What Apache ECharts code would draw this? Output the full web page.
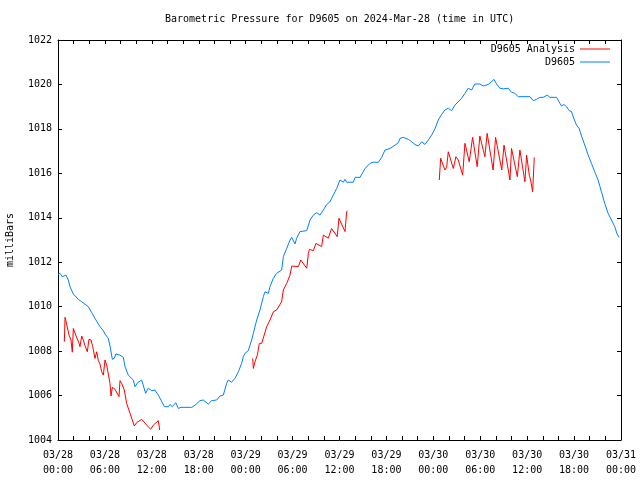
<!DOCTYPE html>
<html><head><meta charset="utf-8">
<script src="https://cdn.jsdelivr.net/npm/echarts@6/dist/echarts.min.js"></script>
<style>html,body{margin:0;padding:0;background:#fff}#c{width:640px;height:480px}</style>
</head><body><div id="c"></div>
<script>
// hours since 2024-03-28 00:00 UTC
const stationHours = [0.0,0.26,0.55,1.02,1.32,1.53,1.96,2.59,3.03,3.24,3.87,4.31,4.73,5.37,5.80,6.01,6.43,6.65,6.95,7.21,7.39,7.93,8.35,8.57,8.99,9.63,9.85,10.19,10.70,10.91,11.21,11.55,11.98,12.40,12.83,13.17,13.60,14.11,14.33,14.62,15.06,15.39,15.73,16.24,17.11,17.53,17.65,18.16,18.58,19.22,19.65,20.29,20.72,21.14,21.57,21.78,22.21,22.64,23.06,23.49,23.70,23.92,24.34,24.56,24.77,24.98,25.41,25.83,26.26,26.47,26.90,27.11,27.33,27.54,27.96,28.60,28.82,29.25,29.67,29.89,30.31,30.52,30.95,31.81,32.23,32.65,33.08,33.51,33.93,34.36,34.78,35.21,35.64,36.06,36.27,36.49,36.70,36.92,37.77,37.99,38.63,39.27,39.91,40.33,40.97,41.40,41.82,42.46,43.10,43.52,43.74,44.16,44.80,45.23,45.65,46.08,46.50,46.93,47.36,47.78,48.21,48.63,49.06,49.48,49.91,50.34,50.76,51.61,52.04,52.46,52.89,53.31,53.95,54.38,55.02,55.45,55.74,56.09,56.51,56.94,57.58,58.00,58.43,58.86,60.35,60.78,61.20,61.63,62.05,62.57,62.91,63.76,64.18,64.40,64.69,65.03,65.37,65.67,65.88,66.31,66.64,66.95,67.37,67.79,68.22,68.64,69.07,69.50,69.92,70.35,70.78,71.20,71.50,71.75];
const stationValues = [1011.45,1011.5,1011.35,1011.42,1011.2,1010.9,1010.57,1010.33,1010.22,1010.15,1010.0,1009.73,1009.47,1009.1,1008.92,1008.77,1008.57,1008.23,1007.63,1007.68,1007.87,1007.82,1007.72,1007.3,1006.92,1006.7,1006.4,1006.58,1006.7,1006.62,1006.1,1006.33,1006.22,1006.25,1006.02,1005.8,1005.5,1005.5,1005.6,1005.5,1005.68,1005.42,1005.47,1005.47,1005.47,1005.57,1005.5,1005.77,1005.8,1005.62,1005.77,1005.8,1005.98,1006.02,1006.55,1006.7,1006.6,1006.78,1007.07,1007.45,1007.75,1007.9,1008.02,1008.1,1008.5,1008.8,1009.4,1009.85,1010.45,1010.67,1010.6,1010.9,1010.83,1011.28,1011.5,1011.65,1012.25,1012.62,1013.0,1013.12,1012.82,1013.08,1013.38,1013.42,1013.9,1014.12,1014.23,1014.12,1014.35,1014.6,1014.72,1015.02,1015.32,1015.7,1015.73,1015.6,1015.73,1015.6,1015.6,1015.82,1015.82,1016.22,1016.45,1016.5,1016.5,1016.72,1017.05,1017.12,1017.27,1017.38,1017.57,1017.62,1017.53,1017.42,1017.3,1017.23,1017.42,1017.3,1017.5,1017.72,1018.0,1018.4,1018.65,1018.85,1018.93,1018.82,1019.07,1019.37,1019.6,1019.83,1019.75,1020.02,1020.02,1019.93,1020.0,1020.12,1020.23,1020.02,1019.83,1019.8,1019.83,1019.65,1019.6,1019.45,1019.45,1019.27,1019.33,1019.42,1019.42,1019.52,1019.42,1019.42,1019.15,1019.03,1019.1,1019.0,1018.82,1018.78,1018.55,1018.17,1018.02,1017.68,1017.27,1016.83,1016.45,1016.07,1015.7,1015.17,1014.65,1014.2,1013.9,1013.6,1013.27,1013.12];

const analysisHours1 = [0.81,0.90,1.02,1.11,1.41,1.66,1.83,1.96,2.27,2.69,2.81,3.03,3.24,3.45,3.75,3.96,4.22,4.44,4.73,4.95,5.16,5.37,5.59,5.80,6.01,6.23,6.65,6.78,6.95,7.29,7.80,7.93,8.14,8.48,8.78,9.21,9.76,10.06,10.70,11.34,11.85,12.19,12.83,13.01];
const analysisValues1 = [1008.42,1009.52,1009.35,1009.4,1008.72,1008.5,1007.95,1009.02,1008.72,1008.35,1008.2,1008.68,1008.5,1008.24,1007.97,1008.53,1008.5,1008.2,1007.67,1007.97,1007.57,1007.42,1007.07,1006.92,1007.6,1007.37,1006.55,1005.98,1006.37,1006.28,1005.95,1006.67,1006.55,1006.25,1005.65,1005.2,1004.63,1004.78,1004.93,1004.67,1004.48,1004.67,1004.87,1004.45];
const analysisHours2 = [24.90,24.98,25.19,25.49,25.75,25.83,26.05,26.69,27.11,27.54,27.96,28.60,28.82,29.25,29.67,29.89,30.10,30.74,31.04,31.81,32.02,32.15,32.65,33.00,33.72,33.93,34.57,34.99,35.71,35.93,36.70,36.92,36.99];
const analysisValues2 = [1007.67,1007.22,1007.52,1007.82,1008.35,1008.38,1008.35,1009.1,1009.4,1009.77,1009.85,1010.22,1010.75,1011.05,1011.42,1011.83,1011.8,1011.8,1012.1,1011.73,1012.4,1012.58,1012.52,1012.85,1012.7,1013.22,1013.08,1013.52,1013.15,1013.98,1013.38,1014.27,1014.32];
const analysisHours3 = [48.76,48.94,49.49,49.70,49.91,50.55,50.89,51.19,51.75,52.04,52.59,53.02,53.61,53.95,54.59,54.88,55.65,55.96,56.75,57.04,57.80,58.00,58.74,59.07,59.71,59.93,60.27,60.44,60.70,60.91];
const analysisValues3 = [1015.7,1016.68,1016.15,1016.27,1016.97,1016.22,1016.75,1016.6,1015.92,1017.35,1016.52,1017.62,1016.3,1017.68,1016.75,1017.8,1016.15,1017.62,1016.15,1017.27,1015.7,1017.12,1015.85,1017.05,1015.62,1016.82,1015.92,1015.7,1015.17,1016.72];

const xTickLabels = ['03/28\n00:00','03/28\n06:00','03/28\n12:00','03/28\n18:00','03/29\n00:00','03/29\n06:00','03/29\n12:00','03/29\n18:00','03/30\n00:00','03/30\n06:00','03/30\n12:00','03/30\n18:00','03/31\n00:00'];

const zip = (a, b) => a.map((h, i) => [h, b[i]]);
const analysisData = [].concat(
  zip(analysisHours1, analysisValues1), [[null, null]],
  zip(analysisHours2, analysisValues2), [[null, null]],
  zip(analysisHours3, analysisValues3)
).map(p => p[0] === null ? '-' : p);
const stationData = zip(stationHours, stationValues);

const FONT = 'DejaVu Sans Mono';
const tickCommon = {inside: true, length: 4, lineStyle: {color: '#000', width: 1}};
const minorCommon = {show: true, splitNumber: 3, length: 4, lineStyle: {color: '#000', width: 1}};
const chart = echarts.init(document.getElementById('c'), null, {renderer: 'canvas'});
chart.setOption({
  animation: false,
  backgroundColor: '#fff',
  title: {
    text: 'Barometric Pressure for D9605 on 2024-Mar-28 (time in UTC)',
    left: 165, top: 14, padding: 0,
    textStyle: {fontFamily: FONT, fontSize: 10, fontWeight: 'normal', color: '#000'}
  },
  legend: [
    {data: ['D9605 Analysis'], orient: 'vertical', align: 'right', right: 30, top: 43, padding: 0,
     itemWidth: 30, itemHeight: 1, icon: 'rect',
     textStyle: {fontFamily: FONT, fontSize: 10, color: '#000', lineHeight: 12}},
    {data: ['D9605'], orient: 'vertical', align: 'right', right: 30, top: 56, padding: 0,
     itemWidth: 30, itemHeight: 1, icon: 'rect',
     textStyle: {fontFamily: FONT, fontSize: 10, color: '#000', lineHeight: 12}}
  ],
  grid: {left: 58, right: 19, top: 40, bottom: 40, containLabel: false, outerBoundsMode: 'none'},
  xAxis: [
    {type: 'value', min: 0, max: 72, interval: 6, position: 'bottom',
     axisLine: {show: true, onZero: false, lineStyle: {color: '#000', width: 1}},
     axisTick: tickCommon, minorTick: minorCommon, splitLine: {show: false},
     axisLabel: {margin: 8, fontFamily: FONT, fontSize: 10, color: '#000', lineHeight: 15,
       formatter: v => xTickLabels[Math.round(v / 6)]}},
    {type: 'value', min: 0, max: 72, interval: 6, position: 'top',
     axisLine: {show: true, onZero: false, lineStyle: {color: '#000', width: 1}},
     axisTick: tickCommon, minorTick: minorCommon, splitLine: {show: false},
     axisLabel: {show: false}}
  ],
  yAxis: [
    {type: 'value', min: 1004, max: 1022, interval: 2, position: 'left',
     name: 'milliBars', nameLocation: 'middle', nameGap: 43, nameRotate: 90,
     nameTextStyle: {fontFamily: FONT, fontSize: 10, color: '#000'},
     axisLine: {show: true, onZero: false, lineStyle: {color: '#000', width: 1}},
     axisTick: tickCommon, splitLine: {show: false},
     axisLabel: {margin: 6, fontFamily: FONT, fontSize: 10, color: '#000', formatter: v => String(v)}},
    {type: 'value', min: 1004, max: 1022, interval: 2, position: 'right',
     axisLine: {show: true, onZero: false, lineStyle: {color: '#000', width: 1}},
     axisTick: tickCommon, splitLine: {show: false}, axisLabel: {show: false}}
  ],
  series: [
    {name: 'D9605 Analysis', type: 'line', data: analysisData, showSymbol: false, symbol: 'none',
     connectNulls: false, color: '#ff0000', lineStyle: {color: '#ff0000', width: 1}, xAxisIndex: 0, yAxisIndex: 0, z: 3},
    {name: 'D9605', type: 'line', data: stationData, showSymbol: false, symbol: 'none',
     color: '#0080ff', lineStyle: {color: '#0080ff', width: 1}, xAxisIndex: 0, yAxisIndex: 0, z: 2}
  ]
});
</script></body></html>
